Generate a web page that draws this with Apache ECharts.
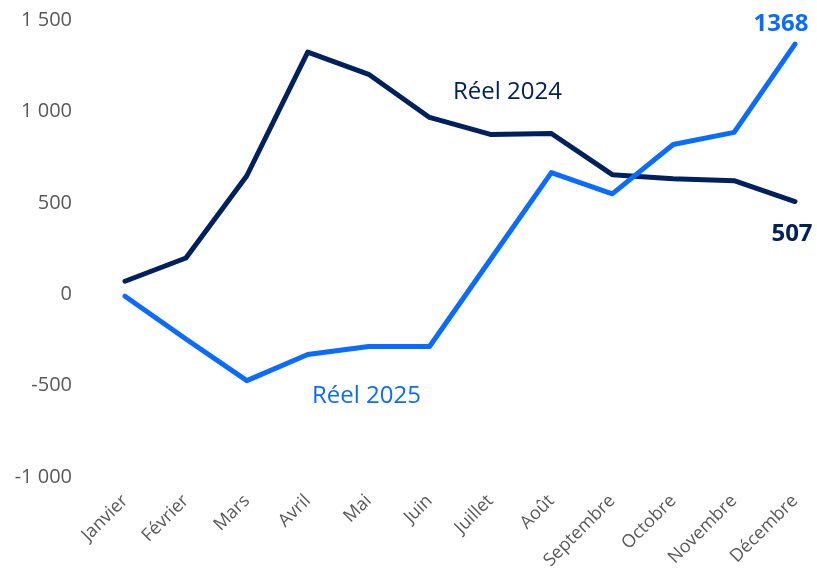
<!DOCTYPE html>
<html>
<head>
<meta charset="utf-8">
<script src="https://cdn.jsdelivr.net/npm/echarts@6/dist/echarts.min.js"></script>
<style>
  html, body { margin: 0; padding: 0; background: #fff; }
  #chart { width: 817px; height: 569px; }
</style>
</head>
<body>
<div id="chart"></div>
<script>
// Réel 2024 vs Réel 2025 — valeurs mensuelles
const months = ['Janvier', 'Février', 'Mars', 'Avril', 'Mai', 'Juin',
  'Juillet', 'Août', 'Septembre', 'Octobre', 'Novembre', 'Décembre'];
const reel2024 = [71, 198, 648, 1324, 1203, 967, 874, 879, 654, 632, 621, 507];
const reel2025 = [-11, -245, -473, -330, -286, -286, 190, 665, 549, 819, 885, 1368];
const yTicks = { min: -1000, max: 1500, interval: 500 };

const NAVY = '#002060';
const BLUE = '#0a6cff';
const GREY = '#595959';
const FONT = '"Open Sans", sans-serif';

// formate 1500 -> "1 500"
function fmt(v) {
  const s = String(Math.abs(v)).replace(/\B(?=(\d{3})+(?!\d))/g, ' ');
  return (v < 0 ? '-' : '') + s;
}

// le dernier point porte l'étiquette de valeur en gras
function withEndLabel(values, color, position, distance, offset) {
  return values.map(function (v, i) {
    if (i !== values.length - 1) return v;
    return {
      value: v,
      label: {
        show: true, position: position, distance: distance, offset: offset,
        color: color, fontFamily: FONT, fontWeight: 'bold', fontSize: 24,
        formatter: function (p) { return String(p.value); }
      }
    };
  });
}

const chart = echarts.init(document.getElementById('chart'));
chart.setOption({
  animation: false,
  grid: {
    left: 125, right: 22, top: 20, bottom: 92,
    containLabel: false, outerBoundsMode: 'none'
  },
  xAxis: {
    type: 'category',
    data: months,
    boundaryGap: false,
    axisLine: { show: false },
    axisTick: { show: false },
    splitLine: { show: false },
    axisLabel: {
      rotate: 45, margin: 21, interval: 0,
      color: GREY, fontFamily: FONT, fontSize: 18
    }
  },
  yAxis: {
    type: 'value',
    min: yTicks.min, max: yTicks.max, interval: yTicks.interval,
    axisLine: { show: false },
    axisTick: { show: false },
    splitLine: { show: false },
    axisLabel: {
      margin: 53, color: GREY, fontFamily: FONT, fontSize: 20,
      formatter: fmt
    }
  },
  series: [
    {
      name: 'Réel 2024', type: 'line', symbol: 'circle', symbolSize: 0, showSymbol: true,
      lineStyle: { width: 5, color: NAVY, cap: 'round', join: 'round' },
      itemStyle: { color: NAVY },
      data: withEndLabel(reel2024, NAVY, 'bottom', 21, [-3, 0])
    },
    {
      name: 'Réel 2025', type: 'line', symbol: 'circle', symbolSize: 0, showSymbol: true,
      lineStyle: { width: 5, color: BLUE, cap: 'round', join: 'round' },
      itemStyle: { color: BLUE },
      data: withEndLabel(reel2025, BLUE, 'top', 8, [-14, 0])
    }
  ],
  graphic: [
    {
      type: 'text', left: 453, top: 80,
      style: { text: 'Réel 2024', fill: NAVY, font: '24px ' + FONT }
    },
    {
      type: 'text', left: 312, top: 384,
      style: { text: 'Réel 2025', fill: BLUE, font: '24px ' + FONT }
    }
  ]
});
</script>
</body>
</html>
